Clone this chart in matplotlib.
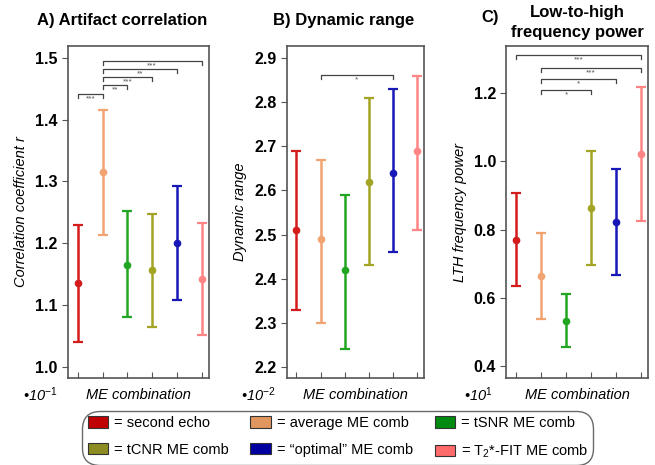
import matplotlib
matplotlib.use('Agg')
import matplotlib.pyplot as plt
from matplotlib.patches import Patch

plt.rcParams['font.family'] = ['Liberation Sans', 'DejaVu Sans']
plt.rcParams['mathtext.fontset'] = 'custom'
plt.rcParams['mathtext.rm'] = 'Liberation Sans'
plt.rcParams['mathtext.it'] = 'Liberation Sans:italic'

# --- data ---
positions = [1, 2, 3, 4, 5, 6]
groups = ["second echo", "average ME comb", "tSNR ME comb",
          "tCNR ME comb", "\u201coptimal\u201d ME comb", "T$_2$*-FIT ME comb"]
bar_colors = ["#d41c1c", "#f2a372", "#22a622", "#a3a324", "#1818b8", "#ff8585"]
patch_colors = ["#c00000", "#e0965e", "#008a10", "#8c8c22", "#0000a0", "#ff6a6a"]

corr_mean = [1.135, 1.315, 1.165, 1.157, 1.200, 1.142]
corr_lo = [1.040, 1.213, 1.080, 1.065, 1.108, 1.052]
corr_hi = [1.230, 1.416, 1.252, 1.248, 1.293, 1.232]
corr_sig = [(1, 2, 1.442, "***"), (2, 3, 1.456, "**"), (2, 4, 1.469, "***"),
            (2, 5, 1.482, "**"), (2, 6, 1.495, "***")]

dyn_mean = [2.51, 2.49, 2.42, 2.62, 2.64, 2.69]
dyn_lo = [2.33, 2.30, 2.24, 2.43, 2.46, 2.51]
dyn_hi = [2.69, 2.67, 2.59, 2.81, 2.83, 2.86]
dyn_sig = [(2, 5, 2.862, "*")]

lth_mean = [0.770, 0.663, 0.532, 0.862, 0.822, 1.022]
lth_lo = [0.635, 0.537, 0.455, 0.697, 0.667, 0.826]
lth_hi = [0.907, 0.790, 0.610, 1.030, 0.977, 1.218]
lth_sig = [(1, 6, 1.311, "***"), (2, 6, 1.273, "***"),
           (2, 5, 1.241, "*"), (2, 4, 1.209, "*")]

panels = [
    dict(rect=[0.104, 0.187, 0.215, 0.714], mean=corr_mean, lo=corr_lo, hi=corr_hi,
         sig=corr_sig, ylim=(0.982, 1.519), yticks=[1.0, 1.1, 1.2, 1.3, 1.4, 1.5],
         ylabel="Correlation coefficient r", scale="\u202210$^{-1}$"),
    dict(rect=[0.438, 0.187, 0.209, 0.714], mean=dyn_mean, lo=dyn_lo, hi=dyn_hi,
         sig=dyn_sig, ylim=(2.175, 2.927), yticks=[2.2, 2.3, 2.4, 2.5, 2.6, 2.7, 2.8, 2.9],
         ylabel="Dynamic range", scale="\u202210$^{-2}$"),
    dict(rect=[0.773, 0.187, 0.217, 0.714], mean=lth_mean, lo=lth_lo, hi=lth_hi,
         sig=lth_sig, ylim=(0.365, 1.338), yticks=[0.4, 0.6, 0.8, 1.0, 1.2],
         ylabel="LTH frequency power", scale="\u202210$^{1}$"),
]

fig = plt.figure(figsize=(6.55, 4.65), dpi=100)
frame = "#555555"

for p in panels:
    ax = fig.add_axes(p["rect"])
    for i, x in enumerate(positions):
        m = p["mean"][i]
        ax.errorbar(x, m, yerr=[[m - p["lo"][i]], [p["hi"][i] - m]], fmt="o",
                    color=bar_colors[i], ms=4.5, elinewidth=1.8, capsize=3.5,
                    capthick=1.6)
    y0, y1 = p["ylim"]
    drop = 0.012 * (y1 - y0)
    for a, b, y, stars in p["sig"]:
        ax.plot([a, a, b, b], [y - drop, y, y, y - drop], color="#444444", lw=0.9)
        ax.text((a + b) / 2, y - drop * 0.4, stars, ha="center", va="top",
                fontsize=6, color="#555555")
    ax.set_xlim(0.6, 6.3)
    ax.set_ylim(y0, y1)
    ax.set_xticks(positions)
    ax.set_xticklabels([])
    ax.tick_params(axis="x", direction="in", length=4, color=frame)
    ax.set_yticks(p["yticks"])
    ax.set_yticklabels(["%.1f" % t for t in p["yticks"]], fontweight="bold", fontsize=11.5)
    ax.tick_params(axis="y", direction="out", length=4, color=frame)
    for s in ax.spines.values():
        s.set_color(frame)
        s.set_linewidth(1.2)
    ax.set_ylabel(p["ylabel"], fontstyle="italic", fontsize=10.5, labelpad=5)
    ax.set_xlabel("ME combination", fontstyle="italic", fontsize=10.5, labelpad=4)
    bb = ax.get_position()
    fig.text(bb.x0 - 0.043, 0.152, p["scale"], fontstyle="italic", fontsize=10.5,
             ha="center", va="center")

fig.text(0.187, 0.956, "A) Artifact correlation", fontweight="bold", fontsize=12,
         ha="center", va="center")
fig.text(0.524, 0.956, "B) Dynamic range", fontweight="bold", fontsize=12,
         ha="center", va="center")
fig.text(0.881, 0.974, "Low-to-high", fontweight="bold", fontsize=12,
         ha="center", va="center")
fig.text(0.881, 0.931, "frequency power", fontweight="bold", fontsize=12,
         ha="center", va="center")
fig.text(0.748, 0.962, "C)", fontweight="bold", fontsize=12, ha="center", va="center")

order = [0, 3, 1, 4, 2, 5]
handles = [Patch(facecolor=patch_colors[i], edgecolor="#333333", lw=0.8,
                 label="= " + groups[i]) for i in order]
leg = fig.legend(handles=handles, ncol=3, loc="center", bbox_to_anchor=(0.516, 0.058),
                 fontsize=10.5, frameon=True, fancybox=True, handlelength=1.4,
                 handleheight=0.8, handletextpad=0.4, columnspacing=1.5,
                 borderpad=0.35, labelspacing=0.85)
frm = leg.get_frame()
frm.set_edgecolor("#444444")
frm.set_linewidth(1.0)
frm.set_boxstyle("round,pad=0,rounding_size=1.2")

fig.savefig("out.png", dpi=100)
